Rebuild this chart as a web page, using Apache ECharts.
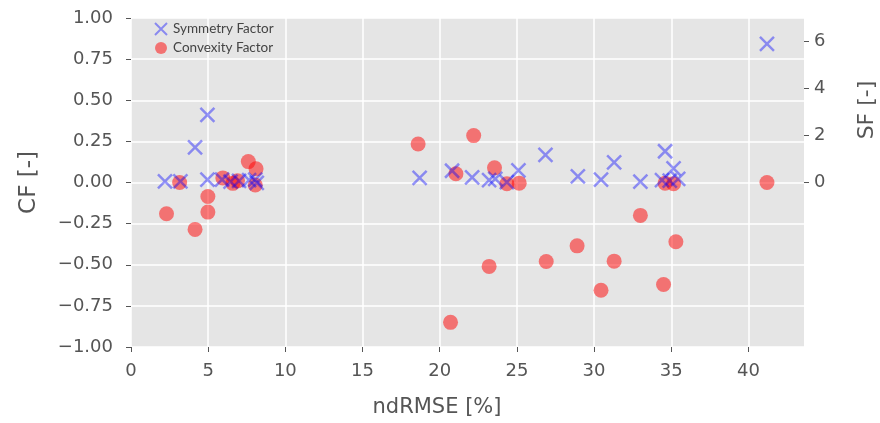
<!DOCTYPE html>
<html>
<head>
<meta charset="utf-8">
<script src="https://cdn.jsdelivr.net/npm/echarts@6/dist/echarts.min.js"></script>
<style>html,body{margin:0;padding:0;background:#fff;}#c{width:880px;height:423px;}</style>
</head>
<body>
<div id="c"></div>
<script>
// ndRMSE [%] and Symmetry Factor (right axis)
const sfX = [2.2, 3.2, 4.15, 4.95, 4.95, 5.9, 6.45, 7.0, 7.65, 8.05, 8.15, 18.7, 20.8, 22.1, 23.2, 23.6, 24.35, 25.1, 26.85, 28.95, 30.45, 31.3, 33.0, 34.4, 34.6, 34.9, 35.15, 35.45, 41.2];
const sfY = [0.05, 0.05, 1.49, 2.88, 0.12, 0.12, 0.04, 0.07, 0.10, 0.12, -0.02, 0.20, 0.50, 0.22, 0.10, 0.15, 0.02, 0.52, 1.18, 0.26, 0.12, 0.86, 0.04, 0.10, 1.33, 0.08, 0.60, 0.15, 5.9];
// ndRMSE [%] and Convexity Factor (left axis)
const cfX = [2.3, 3.15, 4.15, 4.98, 4.98, 5.95, 6.6, 6.9, 7.6, 8.1, 8.05, 18.6, 20.7, 21.05, 22.2, 23.2, 23.55, 24.35, 25.15, 26.9, 28.9, 30.45, 31.3, 33.0, 34.5, 34.6, 35.15, 35.3, 41.2];
const cfY = [-0.19, 0.0, -0.285, -0.085, -0.18, 0.028, -0.005, 0.01, 0.127, 0.083, -0.015, 0.234, -0.85, 0.053, 0.285, -0.51, 0.089, -0.008, -0.004, -0.48, -0.385, -0.655, -0.478, -0.2, -0.62, -0.004, -0.008, -0.36, 0.0];
const xTicks = [0, 5, 10, 15, 20, 25, 30, 35, 40];
const sfTicks = [0, 2, 4, 6];
const seriesNames = ['Symmetry Factor', 'Convexity Factor'];
const axisNames = { x: 'ndRMSE [%]', cf: 'CF [-]', sf: 'SF [-]' };

const fmtMinus = s => s.replace('-', '\u2212');
const tickColor = '#555';
const font = 'DejaVu Sans';

const chart = echarts.init(document.getElementById('c'), null, { renderer: 'canvas' });
const crossPath = 'path://M0,0L10,10M10,0L0,10';

chart.setOption({
  animation: false,
  backgroundColor: '#fff',
  grid: { left: 131, right: 76, top: 18, bottom: 76, show: true, backgroundColor: '#E5E5E5', borderWidth: 0 },
  legend: {
    data: seriesNames,
    orient: 'vertical',
    left: 154, top: 22,
    itemWidth: 14, itemHeight: 12, itemGap: 5,
    padding: 0,
    textStyle: { fontFamily: 'Lato', fontSize: 13.5, color: '#444' }
  },
  xAxis: {
    type: 'value', min: 0, max: 43.6, interval: 5,
    axisLine: { show: false, onZero: false },
    axisTick: { show: true, length: 5, lineStyle: { color: tickColor }, customValues: xTicks },
    axisLabel: { customValues: xTicks, color: tickColor, fontFamily: font, fontSize: 18, margin: 15 },
    splitLine: { show: true, lineStyle: { color: '#fff', width: 1.5 } }
  },
  yAxis: [{
    type: 'value', min: -1, max: 1, interval: 0.25,
    axisLine: { show: false, onZero: false },
    axisTick: { show: true, length: 5, lineStyle: { color: tickColor } },
    axisLabel: { color: tickColor, fontFamily: font, fontSize: 18, margin: 18,
      formatter: v => fmtMinus(v.toFixed(2)) },
    splitLine: { show: true, lineStyle: { color: '#fff', width: 1.5 } },
    name: axisNames.cf, nameLocation: 'middle', nameGap: 90,
    nameTextStyle: { fontFamily: font, fontSize: 23, color: tickColor }
  }, {
    type: 'value', min: -7, max: 7, interval: 1, position: 'right',
    axisLine: { show: false, onZero: false },
    axisTick: { show: true, length: 5, lineStyle: { color: tickColor }, customValues: sfTicks },
    axisLabel: { customValues: sfTicks, color: tickColor, fontFamily: font, fontSize: 18, margin: 10 },
    splitLine: { show: false }
  }],
  graphic: [{
    type: 'text', x: 867, y: 110, rotation: Math.PI / 2,
    style: { text: axisNames.sf, fontFamily: font, fontSize: 22, fill: tickColor, align: 'center', verticalAlign: 'middle' }
  }, {
    type: 'text', x: 437, y: 408,
    style: { text: axisNames.x, fontFamily: font, fontSize: 21, fill: tickColor, align: 'center', verticalAlign: 'middle' }
  }],
  series: [{
    name: seriesNames[1], type: 'scatter', yAxisIndex: 0,
    symbol: 'circle', symbolSize: 15,
    itemStyle: { color: 'rgba(255,0,0,0.5)', opacity: 1 },
    data: cfX.map((x, i) => [x, cfY[i]])
  }, {
    name: seriesNames[0], type: 'scatter', yAxisIndex: 1,
    symbol: crossPath, symbolSize: 14,
    itemStyle: { color: 'rgba(0,0,0,0)', borderColor: 'rgba(0,0,255,0.5)', borderWidth: 2.5 },
    data: sfX.map((x, i) => [x, sfY[i]])
  }]
});
</script>
</body>
</html>
